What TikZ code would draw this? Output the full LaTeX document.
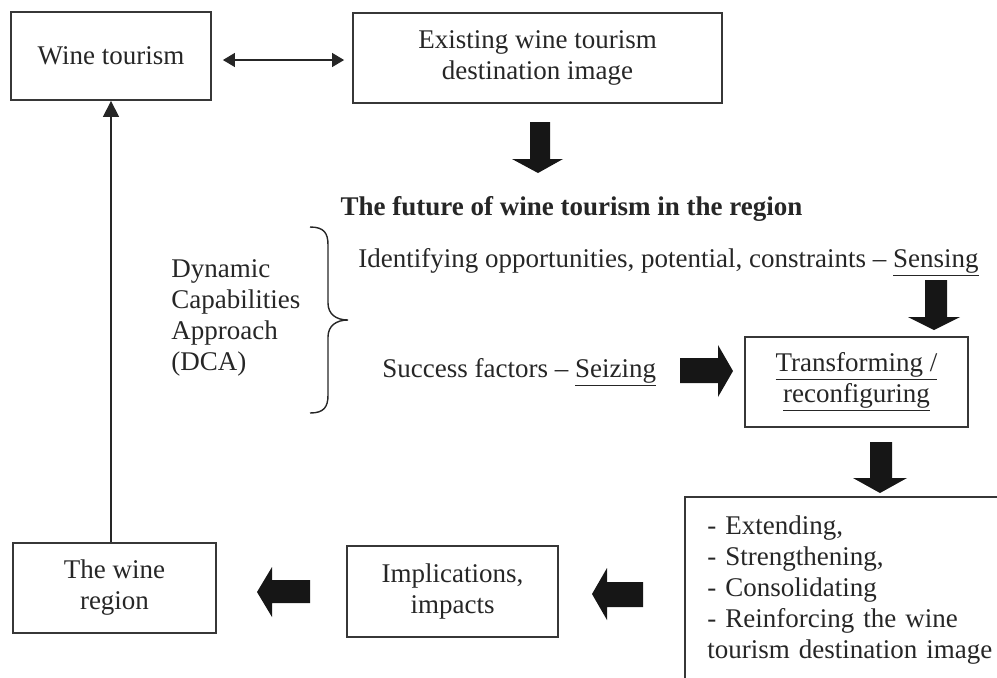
\documentclass[tikz,border=0pt]{standalone}
\usepackage{fontspec}
\setmainfont{Liberation Serif}
\usetikzlibrary{arrows.meta}
\definecolor{ink}{RGB}{38,38,38}
\definecolor{boxline}{RGB}{55,55,55}
\definecolor{fatink}{RGB}{22,22,22}
\begin{document}
\begin{tikzpicture}[x=0.5pt,y=-0.5pt,
  every node/.style={font=\fontsize{13.5pt}{15.5pt}\selectfont, text=ink},
  box/.style={draw=boxline, line width=0.9pt, align=center, inner sep=0pt},
  frame/.style={draw=boxline, line width=0.9pt},
  fat/.style={fill=fatink, draw=none},
  conn/.style={draw=ink, line width=0.65pt},
  freetext/.style={inner sep=0pt}]
\useasboundingbox (0,0) rectangle (997,677);
\clip (0,0) rectangle (997,677);
% boxes
\node[box, minimum width=100pt, minimum height=44pt] (wt) at (111,56) {Wine tourism};
\node[box, minimum width=184.5pt, minimum height=45pt] (ex) at (537.5,58) {Existing wine tourism\\destination image};
\node[box, minimum width=111.5pt, minimum height=45pt] (tr) at (856.5,382) {\underline{Transforming /}\\\underline{reconfiguring}};
\node[box, minimum width=101.5pt, minimum height=45pt] (wr) at (114.5,588) {The wine\\region};
\node[box, minimum width=105.5pt, minimum height=45.5pt] (im) at (452.5,591.5) {Implications,\\impacts};
\node[anchor=north west, align=left, text width=150pt, inner xsep=11pt, inner ysep=9pt] (bx) at (685,497)
  {- Extending,\\- Strengthening,\\- Consolidating\\- Reinforcing the wine\\tourism destination image};
\draw[frame] ([yshift=-40pt]bx.south west) -- (bx.north west) -- ([xshift=30pt]bx.north east);
% free texts
\node[freetext, anchor=base] (title) at (571.5,215) {\bfseries The future of wine tourism in the region};
\node[freetext, anchor=base west] (sense) at (358,267) {Identifying opportunities, potential, constraints – \underline{Sensing}};
\node[freetext, anchor=base west] (seize) at (382,377) {Success factors – \underline{Seizing}};
\node[freetext, anchor=west, align=left] (dca) at (171,318) {Dynamic\\Capabilities\\Approach\\(DCA)};
% brace
\draw[conn, line width=0.7pt] (310,227) .. controls (324,227) and (328,233) .. (328,245) -- (328,303)
  .. controls (328,314) and (336,320) .. (348,320)
  .. controls (336,320) and (328,326) .. (328,337) -- (328,395)
  .. controls (328,407) and (324,413) .. (310,413);
% thin connectors
\draw[conn, {Triangle[length=6pt,width=7pt]}-{Triangle[length=6pt,width=7pt]}, shorten <=5.5pt, shorten >=4pt]
  ([yshift=-2pt]wt.east) -- ([yshift=-2pt]wt.east -| ex.west);
\draw[conn, -{Triangle[length=8pt,width=8pt]}] (wr.north -| wt.south) -- (wt.south);
% fat arrows
\fill[fat] (530,122) -- (550,122) -- (550,159) -- (563,159) -- (538,173) -- (512,159) -- (530,159) -- cycle;
\fill[fat] (925,280) -- (947,280) -- (947,317) -- (960,317) -- (934,330) -- (908,317) -- (925,317) -- cycle;
\fill[fat] (870,442) -- (892,442) -- (892,478) -- (907,478) -- (880,493) -- (853,478) -- (870,478) -- cycle;
\fill[fat] (680,358) -- (718,358) -- (718,345) -- (733,371) -- (718,397) -- (718,383) -- (680,383) -- cycle;
\fill[fat] (310,580) -- (272,580) -- (272,567) -- (257,592) -- (272,617) -- (272,603) -- (310,603) -- cycle;
\fill[fat] (643,582) -- (607,582) -- (607,568) -- (592,594) -- (607,620) -- (607,607) -- (643,607) -- cycle;
\end{tikzpicture}
\end{document}
